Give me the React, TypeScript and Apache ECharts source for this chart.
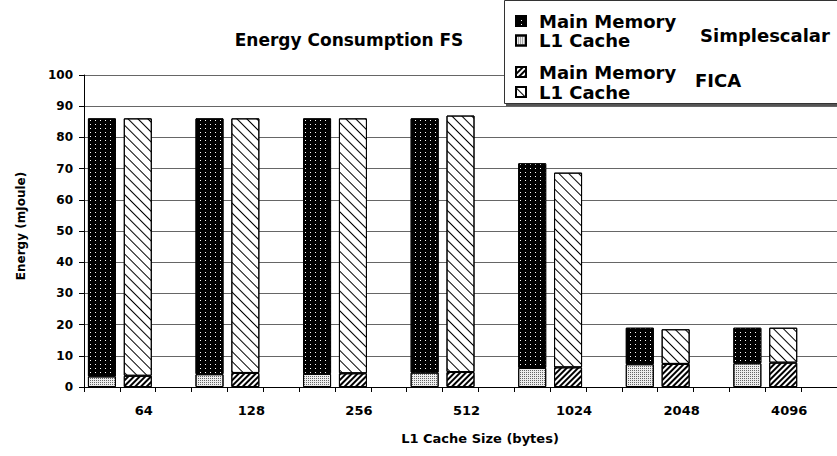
import React, { useEffect, useRef } from 'react';
import * as echarts from 'echarts';

const cacheSizes = ['64', '128', '256', '512', '1024', '2048', '4096'];
// Simplescalar: bottom segment = L1 Cache, top segment = Main Memory
const ssL1 = [3.4, 4.1, 4.2, 4.6, 6.1, 7.3, 7.6];
const ssMain = [82.7, 82.0, 81.9, 81.5, 65.6, 11.7, 11.4];
// FICA (as labelled by the reference legend): bottom segment = Main Memory, top segment = L1 Cache
const ficaMain = [3.6, 4.5, 4.4, 4.8, 6.3, 7.4, 7.8];
const ficaL1 = [82.5, 81.6, 81.7, 82.2, 62.4, 11.1, 11.2];
const seriesNames = ['Main Memory|Simplescalar', 'L1 Cache|Simplescalar', 'Main Memory|FICA', 'L1 Cache|FICA'];
const groupNames = ['Simplescalar', 'FICA'];
const titleText = 'Energy Consumption FS';
const xName = 'L1 Cache Size (bytes)';
const yName = 'Energy (mJoule)';

const FONT = 'DejaVu Sans';

function expand(vals: number[], slot: number) {
  const out: (number | string)[] = [];
  vals.forEach((v) => {
    for (let k = 0; k < 3; k++) out.push(k === slot ? v : '-');
  });
  return out;
}

export default function App() {
  const ref = useRef<HTMLDivElement>(null);
  useEffect(() => {
    if (!ref.current) return;
    const chart = echarts.init(ref.current, undefined, { renderer: 'svg' });
    const categories: string[] = [];
    cacheSizes.forEach((s) => {
      categories.push('ss-' + s, 'fica-' + s, 'gap-' + s);
    });
    const border = { borderColor: '#000', borderWidth: 1 };
    const decals = {
      ssMain: { symbol: 'rect', symbolSize: 1, color: '#fff', dashArrayX: [1, 4], dashArrayY: [1, 3] },
      ssL1: { symbol: 'rect', symbolSize: 1, color: '#666', dashArrayX: [1, 1], dashArrayY: [1, 1] },
      ficaMain: { symbol: 'rect', symbolSize: 1, color: '#000', dashArrayX: [1, 0], dashArrayY: [1.6, 1.8], rotation: -Math.PI / 4 },
      ficaL1: { symbol: 'rect', symbolSize: 1, color: '#000', dashArrayX: [1, 0], dashArrayY: [1, 5.5], rotation: Math.PI / 4 },
    };
    const legendCommon = {
      orient: 'vertical',
      left: 515,
      itemWidth: 10,
      itemHeight: 10,
      icon: 'rect',
      padding: 0,
      selectedMode: false,
      z: 10,
      textStyle: { fontFamily: FONT, fontWeight: 'bold', fontSize: 18, color: '#000', padding: [0, 0, 0, 8] },
      formatter: (n: string) => n.split('|')[0],
    };
    chart.setOption({
      animation: false,
      grid: { left: 84, top: 75, height: 312, width: 763 },
      xAxis: {
        type: 'category',
        data: categories,
        axisLine: { lineStyle: { color: '#000', width: 1 } },
        axisTick: { show: true, interval: 0, length: 5, lineStyle: { color: '#000' } },
        axisLabel: {
          interval: 0,
          margin: 17,
          fontFamily: FONT,
          fontWeight: 'bold',
          fontSize: 13,
          color: '#000',
          padding: [0, 0, 0, 12],
          formatter: (_v: string, i: number) => (i % 3 === 1 ? cacheSizes[Math.floor(i / 3)] : ''),
        },
        splitLine: { show: false },
      },
      yAxis: {
        type: 'value',
        min: 0,
        max: 100,
        interval: 10,
        axisLine: { show: true, lineStyle: { color: '#000', width: 1 } },
        axisTick: { show: true, length: 5, lineStyle: { color: '#000' } },
        axisLabel: { margin: 11, fontFamily: FONT, fontWeight: 'bold', fontSize: 12, color: '#000' },
        splitLine: { show: true, lineStyle: { color: '#666', width: 1 } },
      },
      legend: [
        { ...legendCommon, data: [seriesNames[0], seriesNames[1]], top: 12, itemGap: 1.5 },
        { ...legendCommon, data: [seriesNames[2], seriesNames[3]], top: 63, itemGap: 2 },
      ],
      series: [
        { name: seriesNames[1], type: 'bar', stack: 'e', barWidth: 28, data: expand(ssL1, 0), itemStyle: { color: '#eee', ...border, decal: decals.ssL1 } },
        { name: seriesNames[0], type: 'bar', stack: 'e', barWidth: 28, data: expand(ssMain, 0), itemStyle: { color: '#000', ...border, decal: decals.ssMain } },
        { name: seriesNames[2], type: 'bar', stack: 'e', barWidth: 28, data: expand(ficaMain, 1), itemStyle: { color: '#fff', ...border, decal: decals.ficaMain } },
        { name: seriesNames[3], type: 'bar', stack: 'e', barWidth: 28, data: expand(ficaL1, 1), itemStyle: { color: '#fff', ...border, decal: decals.ficaL1 } },
      ],
      graphic: [
        { type: 'rect', z: 3, shape: { x: 504.5, y: 0.5, width: 400, height: 103 }, style: { fill: '#fff', stroke: '#333', lineWidth: 1 } },
        { type: 'rect', z: 3, shape: { x: 506, y: 104, width: 400, height: 2 }, style: { fill: '#555' } },
        { type: 'text', z: 10, x: 349, y: 40, style: { text: titleText, fontFamily: FONT, fontWeight: 'bold', fontSize: 17, fill: '#000', align: 'center', verticalAlign: 'middle' } },
        { type: 'text', z: 10, x: 700, y: 35, style: { text: groupNames[0], fontFamily: FONT, fontWeight: 'bold', fontSize: 18, fill: '#000', align: 'left', verticalAlign: 'middle' } },
        { type: 'text', z: 10, x: 695, y: 80, style: { text: groupNames[1], fontFamily: FONT, fontWeight: 'bold', fontSize: 18, fill: '#000', align: 'left', verticalAlign: 'middle' } },
        { type: 'text', z: 10, x: 480, y: 438, style: { text: xName, fontFamily: FONT, fontWeight: 'bold', fontSize: 13, fill: '#000', align: 'center', verticalAlign: 'middle' } },
        { type: 'text', z: 10, x: 21, y: 226, rotation: Math.PI / 2, style: { text: yName, fontFamily: FONT, fontWeight: 'bold', fontSize: 12, fill: '#000', align: 'center', verticalAlign: 'middle' } },
      ],
    });
    return () => chart.dispose();
  }, []);
  return <div ref={ref} style={{ position: 'absolute', left: 0, top: 0, width: 837, height: 456 }} />;
}
